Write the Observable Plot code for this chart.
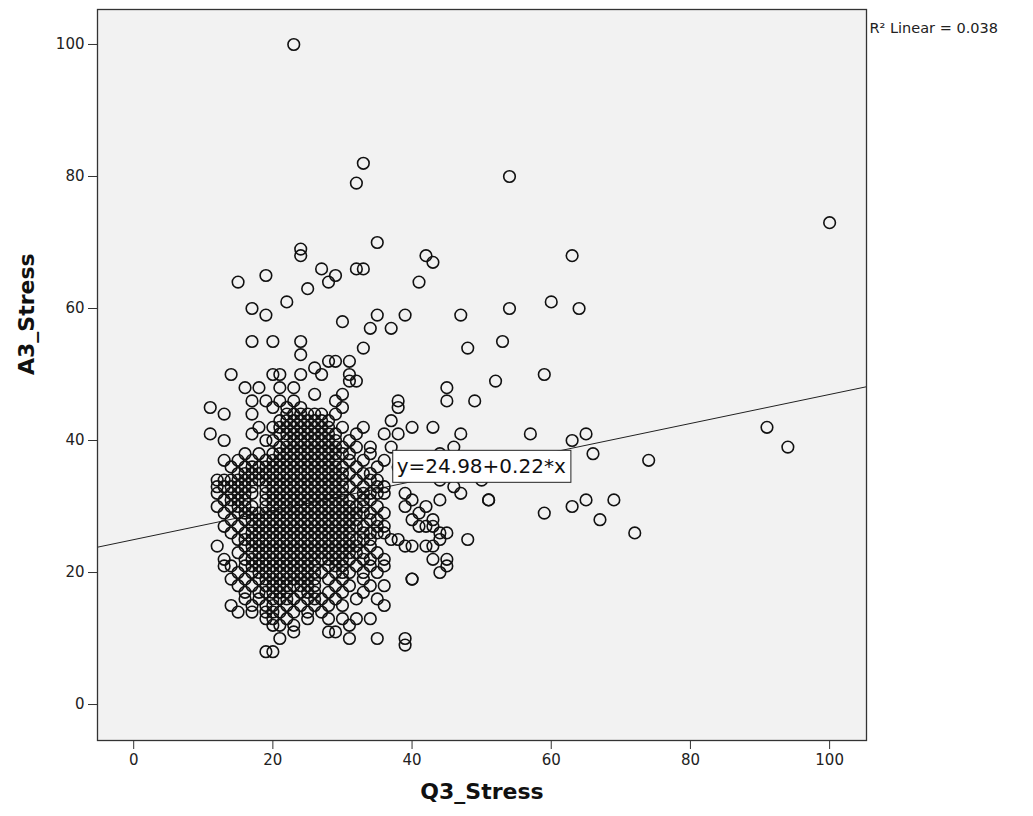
<!DOCTYPE html>
<html><head><meta charset="utf-8">
<script src="https://cdn.jsdelivr.net/npm/d3@7"></script>
<script src="https://cdn.jsdelivr.net/npm/@observablehq/plot@0.6"></script>
<style>
body{margin:0;background:#fff;}
</style></head><body><div id="chart"></div>
<script>
// ---- chart data ----
const xTicks = [0, 20, 40, 60, 80, 100];
const yTicks = [0, 20, 40, 60, 80, 100];
const xLabel = "Q3_Stress";
const yLabel = "A3_Stress";
const intercept = 24.98;
const slope = 0.22;
const fitLabel = "y=24.98+0.22*x";
const r2Label = "R² Linear = 0.038";
const fitLabelAt = [37.8, 36];

// sparse / outlying cases [Q3_Stress, A3_Stress]
const sparsePoints = [
  [23,100],[33,82],[32,79],[54,80],[100,73],[35,70],[24,69],[24,68],[42,68],[43,67],[63,68],
  [19,65],[15,64],[27,66],[32,66],[33,66],[29,65],[28,64],[41,64],[25,63],[22,61],[60,61],
  [17,60],[54,60],[64,60],[19,59],[35,59],[39,59],[47,59],[30,58],[34,57],[37,57],[53,55],
  [17,55],[20,55],[24,55],[33,54],[48,54],[24,53],[59,50],[52,49],[45,48],[45,46],[49,46],
  [47,41],[57,41],[63,40],[65,41],[66,38],[74,37],[91,42],[94,39],[46,39],[65,31],[69,31],
  [63,30],[67,28],[72,26],[59,29],[48,25],[38,36],[40,35],[42,37],[50,34],[55,36],[44,34]
];

// dense core: [A3_Stress, [Q3_Stress values]]
const coreRows = [
  [52,[28,29,31]],
  [51,[26]],
  [50,[14,20,21,24,27,31]],
  [49,[31,32]],
  [48,[16,18,21,23]],
  [47,[26,30]],
  [46,[17,19,21,23,29,38]],
  [45,[11,20,22,24,30,38]],
  [44,[13,17,22,23,24,25,26,27,29]],
  [43,[21,22,23,24,25,26,27,28,37]],
  [42,[18,20,21,22,23,24,25,26,27,28,30,33,40,43]],
  [41,[11,17,21,22,23,24,25,26,27,28,29,32,36,38]],
  [40,[13,19,20,22,23,24,25,26,27,28,29,31]],
  [39,[21,22,23,24,25,26,27,28,29,30,32,34,37]],
  [38,[16,18,20,21,22,23,24,25,26,27,28,29,30,31,34,44]],
  [37,[13,15,17,19,20,21,22,23,24,25,26,27,28,29,31,33,36]],
  [36,[14,16,17,18,19,20,21,22,23,24,25,26,27,28,29,30,32,35]],
  [35,[15,16,17,18,19,20,21,22,23,24,25,26,27,28,29,30,31,33,34]],
  [34,[12,13,14,15,16,17,18,19,20,21,22,23,24,25,26,27,28,29,30,32,34,35]],
  [33,[12,13,14,15,16,17,19,20,21,22,23,24,25,26,27,28,29,30,31,33,35,36,46]],
  [32,[12,14,15,16,17,19,20,21,22,23,24,25,26,27,28,29,30,32,33,34,35,36,39,47]],
  [31,[13,14,15,16,19,20,21,22,23,24,25,26,27,28,29,30,31,33,34,40,44,51,51]],
  [30,[12,14,15,16,17,19,20,21,22,23,24,25,26,27,28,29,30,31,32,33,35,39,42]],
  [29,[13,15,16,17,18,19,20,21,22,23,24,25,26,27,28,29,30,31,32,33,34,36,41]],
  [28,[14,16,17,18,19,20,21,22,23,24,25,26,27,28,29,30,31,32,34,35,40,43]],
  [27,[13,15,17,18,19,20,21,22,23,24,25,26,27,28,29,30,31,32,33,35,36,41,42,43]],
  [26,[14,16,17,18,19,20,21,22,23,24,25,26,27,28,29,30,31,33,34,35,36,44,45]],
  [25,[15,16,17,18,19,20,21,22,23,24,25,26,27,28,29,30,31,32,33,34,37,38,44]],
  [24,[12,16,17,18,19,20,21,22,23,24,25,26,27,28,29,30,31,32,34,39,40,42,43]],
  [23,[15,17,18,19,20,21,22,23,24,25,26,27,28,29,30,31,32,33,35]],
  [22,[13,16,17,18,19,20,21,22,23,24,25,26,27,28,29,30,31,33,34,36,43,45]],
  [21,[13,14,16,17,18,19,20,21,22,23,24,25,26,28,29,30,32,34,36,45]],
  [20,[15,17,18,19,20,21,22,23,24,25,26,27,29,30,31,33,35,44]],
  [19,[14,16,18,19,20,21,22,23,24,25,26,28,30,33,40,40]],
  [18,[15,17,19,20,21,22,23,24,25,26,29,31,34,36]],
  [17,[16,18,19,20,21,22,24,25,26,28,30,33]],
  [16,[16,18,20,21,22,23,25,26,27,29,32,35]],
  [15,[14,17,19,20,22,24,26,28,30,36]],
  [14,[15,17,19,20,21,23,25,27]],
  [13,[19,20,22,25,28,30,32,34]],
  [12,[20,21,23,31]],
  [11,[23,28,29]],
  [10,[21,31,35,39]],
  [9,[39]],
  [8,[19,20]]
];

const xDomain = [-5.2, 105.3];
const yDomain = [-5.45, 105.3];

const points = [
  ...sparsePoints.map(([x, y]) => ({x, y})),
  ...coreRows.flatMap(([y, xs]) => xs.map(x => ({x, y})))
];
const fitLine = xDomain.map(x => ({x, y: intercept + slope * x}));

const chart = Plot.plot({
  width: 1033,
  height: 816,
  marginLeft: 97,
  marginRight: 167,
  marginTop: 9,
  marginBottom: 76,
  style: {fontFamily: "'DejaVu Sans', Verdana, sans-serif", background: "#fff", color: "#222", fontSize: "15px", overflow: "visible"},
  x: {domain: xDomain},
  y: {domain: yDomain},
  marks: [
    Plot.frame({fill: "#f2f2f2", stroke: "none"}),
    Plot.line(fitLine, {x: "x", y: "y", stroke: "#222", strokeWidth: 1}),
    Plot.dot(points, {x: "x", y: "y", r: 5.8, stroke: "#111", strokeWidth: 1.6, fill: "none"}),
    Plot.frame({stroke: "#333", strokeWidth: 1.3}),
    Plot.axisX({ticks: xTicks, tickSize: 9, tickPadding: 5, fontSize: 15, label: null, stroke: "#333"}),
    Plot.axisY({ticks: yTicks, tickSize: 9, tickPadding: 4, fontSize: 15, label: null, stroke: "#333"}),
    Plot.text([{x: fitLabelAt[0], y: fitLabelAt[1], t: fitLabel}], {x: "x", y: "y", text: "t", textAnchor: "start", fontSize: 20, fill: "#111", className: "fit-label"}),
    Plot.text([xLabel], {frameAnchor: "bottom", dy: 58, fontSize: 22, fontWeight: "bold", fill: "#111"}),
    Plot.text([yLabel], {frameAnchor: "left", dx: -71, rotate: -90, fontSize: 22, fontWeight: "bold", fill: "#111"}),
    Plot.text([r2Label], {frameAnchor: "top-right", textAnchor: "start", dx: 3, dy: 13, fontSize: 14.5, fill: "#222"})
  ]
});
document.getElementById("chart").appendChild(chart);

// white box behind the fit equation label
const lbl = chart.querySelector(".fit-label text");
if (lbl) {
  const b = lbl.getBBox();
  const tr = lbl.getAttribute("transform");
  const rect = document.createElementNS("http://www.w3.org/2000/svg", "rect");
  rect.setAttribute("x", b.x - 4);
  rect.setAttribute("y", b.y - 4);
  rect.setAttribute("width", b.width + 9);
  rect.setAttribute("height", b.height + 8);
  rect.setAttribute("fill", "#fff");
  rect.setAttribute("stroke", "#222");
  rect.setAttribute("stroke-width", "1");
  if (tr) rect.setAttribute("transform", tr);
  lbl.parentNode.insertBefore(rect, lbl);
}
</script>
</body></html>
